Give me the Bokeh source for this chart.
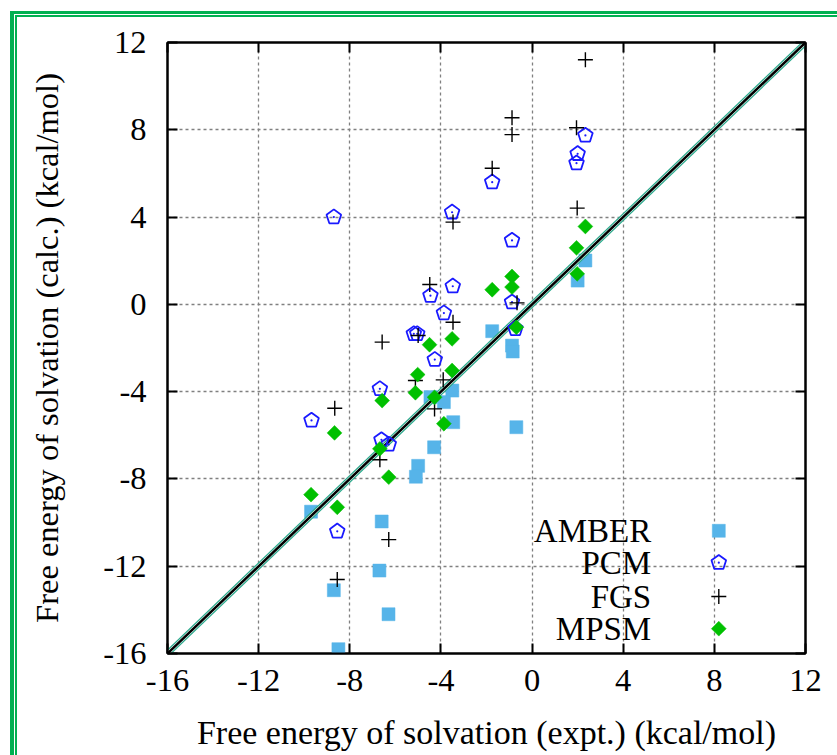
import math
from bokeh.plotting import figure
from bokeh.models import (Range1d, FixedTicker, LinearAxis, Label)
from bokeh.embed import file_html
from bokeh.resources import INLINE

# ---------------- data ----------------
x_ticks = [-16, -12, -8, -4, 0, 4, 8, 12]
x_tick_labels = ["-16", "-12", "-8", "-4", "0", "4", "8", "12"]
y_ticks = [-16, -12, -8, -4, 0, 4, 8, 12]
y_tick_labels = ["-16", "-12", "-8", "-4", "0", "4", "8", "12"]

series_names = ["AMBER", "PCM", "FGS", "MPSM"]

amber_expt = [-9.7, -8.7, -8.5, -6.6, -6.7, -6.3, -5.0, -5.1, -4.3, -4.46,
              -3.5, -3.87, -3.46, -1.75, -0.88, -0.85, -0.69, 2.34, 2.0]
amber_calc = [-9.5, -13.1, -15.8, -9.95, -12.2, -14.2, -7.4, -7.9, -6.55, -4.25,
              -3.95, -4.48, -5.4, -1.23, -1.89, -2.16, -5.63, 2.01, 1.09]

pcm_expt = [-8.7, -3.51, -3.48, -4.46, -3.87, -5.04, -5.19, -4.27, -6.68, -9.68,
            -6.61, -6.29, -8.55, -0.88, -0.73, -0.88, -1.75, 2.0, 1.95, 2.34]
pcm_calc = [4.0, 4.22, 0.83, 0.4, -0.4, -1.35, -1.35, -2.53, -3.87, -5.32,
            -6.21, -6.42, -10.4, 0.1, -1.12, 2.93, 5.6, 6.9, 6.47, 7.74]

fgs_expt = [2.34, -0.88, -0.88, -1.75, 1.95, 1.98, -3.47, -0.66, -4.49, -3.47,
            -5.0, -6.58, -5.12, -3.9, -4.28, -8.66, -6.68, -6.29, -8.55]
fgs_calc = [11.21, 8.55, 7.78, 6.24, 8.09, 4.41, 3.77, 0.07, 0.91, -0.82,
            -1.43, -1.73, -3.49, -3.46, -4.79, -4.76, -7.12, -10.78, -12.61]

mpsm_expt = [2.34, 1.95, 1.98, -0.88, -0.88, -1.75, -0.69, -3.51, -4.5, -3.51,
             -5.02, -5.12, -4.28, -6.58, -3.87, -8.67, -6.68, -6.29, -9.7, -8.55]
mpsm_calc = [3.57, 2.59, 1.4, 1.28, 0.79, 0.67, -1.05, -1.58, -1.85, -3.03,
             -3.22, -4.05, -4.26, -4.41, -5.47, -5.89, -6.62, -7.92, -8.72, -9.3]

axis_min, axis_max = -16, 12

# ---------------- layout & styles ----------------
W, H = 837, 755
B_LEFT, B_RIGHT, B_TOP, B_BOTTOM = 167, 32, 42, 102
FRAME_W = W - B_LEFT - B_RIGHT
FRAME_H = H - B_TOP - B_BOTTOM
X_PER_PX = (axis_max - axis_min) / FRAME_W
Y_PER_PX = (axis_max - axis_min) / FRAME_H

FONT = "Liberation Serif"
TICK_FS = "32.5px"
LABEL_FS = "33px"
AMBER_C = "#56b4e9"
PCM_C = "#1a1aff"
FGS_C = "#000000"
MPSM_C = "#00c000"
TEAL = "#2aa98c"
FRAME_GREEN = "#00b050"

p = figure(width=W, height=H,
           x_range=Range1d(axis_min, axis_max), y_range=Range1d(axis_min, axis_max),
           output_backend="svg", toolbar_location=None,
           min_border_left=B_LEFT, min_border_right=B_RIGHT,
           min_border_top=B_TOP, min_border_bottom=B_BOTTOM)

# green double page frame (left and top edges visible in the reference)
p.styles = {"box-shadow": ("inset 10px 11px 0 0 #ffffff, inset 14px 14px 0 0 %s, "
                           "inset 15px 15px 0 0 #ffffff, inset 17px 17px 0 0 %s")
            % (FRAME_GREEN, FRAME_GREEN)}
p.border_fill_color = None
p.background_fill_color = "white"
p.outline_line_color = "black"
p.outline_line_width = 2

xa, ya = p.xaxis[0], p.yaxis[0]
xa.ticker = FixedTicker(ticks=x_ticks)
ya.ticker = FixedTicker(ticks=y_ticks)
for ax in (xa, ya):
    ax.major_label_text_font = FONT
    ax.major_label_text_font_size = TICK_FS
    ax.major_label_text_color = "black"
    ax.axis_label_text_font = FONT
    ax.axis_label_text_font_style = "normal"
    ax.axis_label_text_color = "black"
    ax.axis_line_color = "black"
    ax.axis_line_width = 2
    ax.major_tick_in = 10
    ax.major_tick_out = 0
    ax.major_tick_line_width = 2
    ax.minor_tick_line_color = None

xa.major_label_overrides = dict(zip(x_ticks, x_tick_labels))
ya.major_label_overrides = dict(zip(y_ticks, y_tick_labels))
xa.axis_label = "Free energy of solvation (expt.) (kcal/mol)"
ya.axis_label = "Free energy of solvation (calc.) (kcal/mol)"
xa.axis_label_text_font_size = "34px"
ya.axis_label_text_font_size = "32.5px"
xa.major_label_standoff = 16
xa.axis_label_standoff = 20
ya.major_label_standoff = 21
ya.axis_label_standoff = 35

for side, tks in (("above", x_ticks), ("right", y_ticks)):
    ax = LinearAxis(ticker=FixedTicker(ticks=tks))
    ax.major_label_text_font_size = "1px"
    ax.major_label_text_color = None
    ax.major_label_standoff = 0
    ax.axis_line_color = "black"
    ax.axis_line_width = 2
    ax.major_tick_in = 10
    ax.major_tick_out = 0
    ax.major_tick_line_width = 2
    ax.minor_tick_line_color = None
    p.add_layout(ax, side)

p.xgrid.ticker = FixedTicker(ticks=x_ticks)
p.ygrid.ticker = FixedTicker(ticks=y_ticks)
for g in (p.xgrid[0], p.ygrid[0]):
    g.grid_line_color = "#808080"
    g.grid_line_dash = "3 3"
    g.grid_line_width = 1.3


# ---------------- glyph helpers ----------------
def pentagon_shapes(xs, ys, r_px):
    """Regular pentagon outlines (point up), r_px pixels in radius, round each point."""
    px, py = [], []
    for x0, y0 in zip(xs, ys):
        angs = [math.pi / 2 + 2 * math.pi * k / 5 for k in range(5)]
        px.append([x0 + r_px * math.cos(a) * X_PER_PX for a in angs])
        py.append([y0 + r_px * math.sin(a) * Y_PER_PX for a in angs])
    return px, py


def draw_amber(xs, ys):
    p.scatter(xs, ys, marker="square", size=13, fill_color=AMBER_C,
              line_color=AMBER_C, line_width=0.5)


def draw_diag():
    d = [axis_min, axis_max]
    p.line(d, d, line_color=TEAL, line_width=6)
    p.line(d, d, line_color="white", line_width=3.5)
    p.line(d, d, line_color="black", line_width=2.5)


def draw_pcm(xs, ys):
    pxs, pys = pentagon_shapes(xs, ys, 7.7)
    p.patches(pxs, pys, fill_color=None, line_color=PCM_C, line_width=1.8)
    p.scatter(xs, ys, marker="circle", size=2.2, fill_color=PCM_C, line_color=None)


def draw_fgs(xs, ys):
    p.scatter(xs, ys, marker="cross", size=15, line_color=FGS_C, line_width=1.4)


def draw_mpsm(xs, ys):
    p.scatter(xs, ys, marker="square", size=10.5, angle=math.pi / 4,
              fill_color=MPSM_C, line_color=MPSM_C, line_width=0.5)


draw_amber(amber_expt, amber_calc)
draw_diag()
draw_pcm(pcm_expt, pcm_calc)
draw_fgs(fgs_expt, fgs_calc)
draw_mpsm(mpsm_expt, mpsm_calc)

# ---------------- key (text on the left, symbol on the right) ----------------
KEY_X_PX = 551.3                    # symbol centre, px right of the frame's left edge
KEY_TEXT_RIGHT_PX = 483.7           # right end of the texts
KEY_ROWS_PX = [122.7, 90.8, 57.0, 24.8]   # row centres, px above the frame's bottom
key_drawers = [draw_amber, draw_pcm, draw_fgs, draw_mpsm]
for name, drawer, ry in zip(series_names, key_drawers, KEY_ROWS_PX):
    kx = axis_min + KEY_X_PX * X_PER_PX
    ky = axis_min + ry * Y_PER_PX
    drawer([kx], [ky])
    p.add_layout(Label(x=KEY_TEXT_RIGHT_PX, y=ry, x_units="screen", y_units="screen",
                       text=name, text_font=FONT, text_font_size=LABEL_FS,
                       text_align="right", text_baseline="middle", text_color="black"))

open("out.html", "w").write(file_html(p, INLINE))
